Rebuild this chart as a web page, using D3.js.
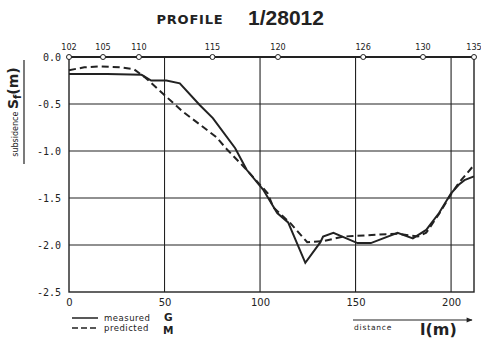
<!DOCTYPE html>
<html><head><meta charset="utf-8">
<script src="https://cdn.jsdelivr.net/npm/d3@7"></script>
<style>body{margin:0;background:#fff}svg{display:block}</style>
</head><body>
<script>
const stationLabels = ["102","105","110","115","120","126","130","135"];
const stationPos = [0, 17.8, 36.6, 75.1, 109.4, 154, 185.3, 212];
const xTicks = [0, 50, 100, 150, 200];
const yTicks = [0, -0.5, -1.0, -1.5, -2.0, -2.5];
const measuredX = [0, 20, 38, 43, 51, 58, 68.4, 75.3, 87, 93, 101.6, 109, 114.7, 123.7, 131.6, 133, 138.4, 151, 158, 172, 180, 187, 193.7, 200, 204, 207, 212];
const measuredY = [-0.18, -0.18, -0.19, -0.25, -0.25, -0.28, -0.51, -0.65, -0.97, -1.2, -1.41, -1.66, -1.76, -2.19, -1.97, -1.91, -1.87, -1.98, -1.98, -1.87, -1.93, -1.84, -1.66, -1.45, -1.36, -1.31, -1.27];
const predictedX = [0, 8, 17, 27, 34, 40, 47, 59.5, 77, 83, 93, 104, 107, 116, 124.7, 133, 143.7, 161.5, 172, 182.6, 187, 193.7, 200, 204, 212];
const predictedY = [-0.14, -0.11, -0.10, -0.11, -0.13, -0.22, -0.35, -0.58, -0.85, -0.99, -1.2, -1.45, -1.6, -1.77, -1.97, -1.96, -1.91, -1.89, -1.88, -1.91, -1.87, -1.67, -1.46, -1.34, -1.15];

const W = 481, H = 343;
const svg = d3.select("body").append("svg").attr("width", W).attr("height", H);
const x = d3.scaleLinear().domain([0, 212]).range([69, 474]);
const y = d3.scaleLinear().domain([0, -2.5]).range([57, 292]);
const ink = "#222";
const mono = "'DejaVu Sans Mono', monospace";

// Title
svg.append("text").attr("x", 190).attr("y", 24).attr("text-anchor", "middle").attr("fill", ink)
  .text("PROFILE").attr("font-family", "'DejaVu Sans', sans-serif").attr("font-weight", "900").attr("font-size", 13).attr("letter-spacing", 0.8);
svg.append("text").attr("x", 286).attr("y", 25).attr("text-anchor", "middle").attr("fill", ink)
  .text("1/28012").attr("font-family", "'Liberation Sans', sans-serif").attr("font-size", 21).attr("font-weight", "bold");

// grid
const g = svg.append("g");
g.selectAll(".vg").data(xTicks.filter(d => d > 0)).join("line")
  .attr("x1", d => x(d)).attr("x2", d => x(d)).attr("y1", y(0)).attr("y2", y(-2.5))
  .attr("stroke", ink).attr("stroke-width", 1.1);
g.selectAll(".hg").data(yTicks.filter(d => d < 0 && d > -2.5)).join("line")
  .attr("x1", x(0)).attr("x2", x(212)).attr("y1", d => y(d)).attr("y2", d => y(d))
  .attr("stroke", ink).attr("stroke-width", 1.1);
// frame
svg.append("rect").attr("x", x(0)).attr("y", y(0)).attr("width", x(212) - x(0)).attr("height", y(-2.5) - y(0))
  .attr("fill", "none").attr("stroke", ink).attr("stroke-width", 1.4);
svg.append("line").attr("x1", x(0)).attr("x2", x(212)).attr("y1", y(0)).attr("y2", y(0)).attr("stroke", ink).attr("stroke-width", 2);

// axes labels
const xAxis = d3.axisBottom(x).tickValues(xTicks).tickSize(0).tickPadding(7).tickFormat(d3.format("d"));
const xa = svg.append("g").attr("transform", `translate(0,${y(-2.5)})`).call(xAxis);
xa.select(".domain").remove();
xa.selectAll("text").attr("font-family", "'DejaVu Sans', sans-serif").attr("font-size", 10).attr("fill", ink);
const yAxis = d3.axisLeft(y).tickValues(yTicks).tickSize(0).tickPadding(8).tickFormat(d => d.toFixed(1));
const ya = svg.append("g").attr("transform", `translate(${x(0)},0)`).call(yAxis);
ya.select(".domain").remove();
ya.selectAll("text").attr("font-family", mono).attr("font-size", 10).attr("fill", ink);

// stations
const st = svg.append("g");
st.selectAll("circle").data(stationPos).join("circle")
  .attr("cx", d => x(d)).attr("cy", y(0)).attr("r", 2.5).attr("fill", "#fff").attr("stroke", ink).attr("stroke-width", 1);
st.selectAll("text").data(stationLabels).join("text")
  .attr("x", (d, i) => x(stationPos[i])).attr("y", y(0) - 7).attr("text-anchor", "middle")
  .attr("font-family", "'DejaVu Sans Condensed', 'DejaVu Sans', sans-serif").attr("font-size", 9).attr("fill", ink).text(d => d);

// lines
const line = d3.line().x(d => x(d[0])).y(d => y(d[1])).curve(d3.curveLinear);
svg.append("path").datum(measuredX.map((v, i) => [v, measuredY[i]])).attr("d", line)
  .attr("fill", "none").attr("stroke", ink).attr("stroke-width", 2);
svg.append("path").datum(predictedX.map((v, i) => [v, predictedY[i]])).attr("d", line)
  .attr("fill", "none").attr("stroke", ink).attr("stroke-width", 2).attr("stroke-dasharray", "7,4");

// y label
const yl = svg.append("g").attr("transform", "translate(18,112) rotate(-90)");
const ylt = yl.append("text").attr("text-anchor", "middle").attr("fill", ink);
ylt.append("tspan").text("subsidence ").attr("font-family", "'DejaVu Sans', sans-serif").attr("font-size", 8);
ylt.append("tspan").text("S").attr("font-family", "'DejaVu Sans', sans-serif").attr("font-weight", "bold").attr("font-size", 14);
ylt.append("tspan").text("f").attr("font-family", "'DejaVu Sans', sans-serif").attr("font-weight", "bold").attr("font-size", 10).attr("dy", 3);
ylt.append("tspan").text("(m)").attr("font-family", "'DejaVu Sans', sans-serif").attr("font-weight", "bold").attr("font-size", 14).attr("dy", -3);
yl.append("line").attr("x1", -52).attr("x2", 52).attr("y1", 6).attr("y2", 6).attr("stroke", ink).attr("stroke-width", 1.2);

// legend
const lg = svg.append("g");
lg.append("line").attr("x1", 72).attr("x2", 98).attr("y1", 318).attr("y2", 318).attr("stroke", ink).attr("stroke-width", 1.5);
lg.append("line").attr("x1", 72).attr("x2", 98).attr("y1", 328).attr("y2", 328).attr("stroke", ink).attr("stroke-width", 1.5).attr("stroke-dasharray", "6,3");
lg.append("text").attr("x", 104).attr("y", 321).text("measured").attr("font-family", "'DejaVu Sans', sans-serif").attr("font-size", 8.5).attr("fill", ink).attr("letter-spacing", 0.5);
lg.append("text").attr("x", 104).attr("y", 331).text("predicted").attr("font-family", "'DejaVu Sans', sans-serif").attr("font-size", 8.5).attr("fill", ink).attr("letter-spacing", 0.5);
lg.append("text").attr("x", 164).attr("y", 321).text("G").attr("font-family", "'DejaVu Sans', sans-serif").attr("font-weight", "bold").attr("font-size", 10.5).attr("fill", ink);
lg.append("text").attr("x", 163).attr("y", 334).text("M").attr("font-family", "'DejaVu Sans', sans-serif").attr("font-weight", "bold").attr("font-size", 10.5).attr("fill", ink);

// distance
svg.append("defs").append("marker").attr("id", "arr").attr("viewBox", "0 0 10 10").attr("refX", 9).attr("refY", 5)
  .attr("markerWidth", 7).attr("markerHeight", 5).attr("orient", "auto")
  .append("path").attr("d", "M0,1 L10,5 L0,9 Z").attr("fill", ink);
svg.append("line").attr("x1", 353).attr("x2", 472).attr("y1", 320).attr("y2", 320).attr("stroke", ink).attr("stroke-width", 1.2).attr("marker-end", "url(#arr)");
svg.append("text").attr("x", 354).attr("y", 330).text("distance").attr("font-family", "'DejaVu Sans', sans-serif").attr("font-size", 7.5).attr("fill", ink).attr("letter-spacing", 0.8);
svg.append("text").attr("x", 420).attr("y", 335).text("l(m)").attr("font-family", "'DejaVu Sans', sans-serif").attr("font-weight", "bold").attr("font-size", 16).attr("fill", ink);
</script>
</body></html>
